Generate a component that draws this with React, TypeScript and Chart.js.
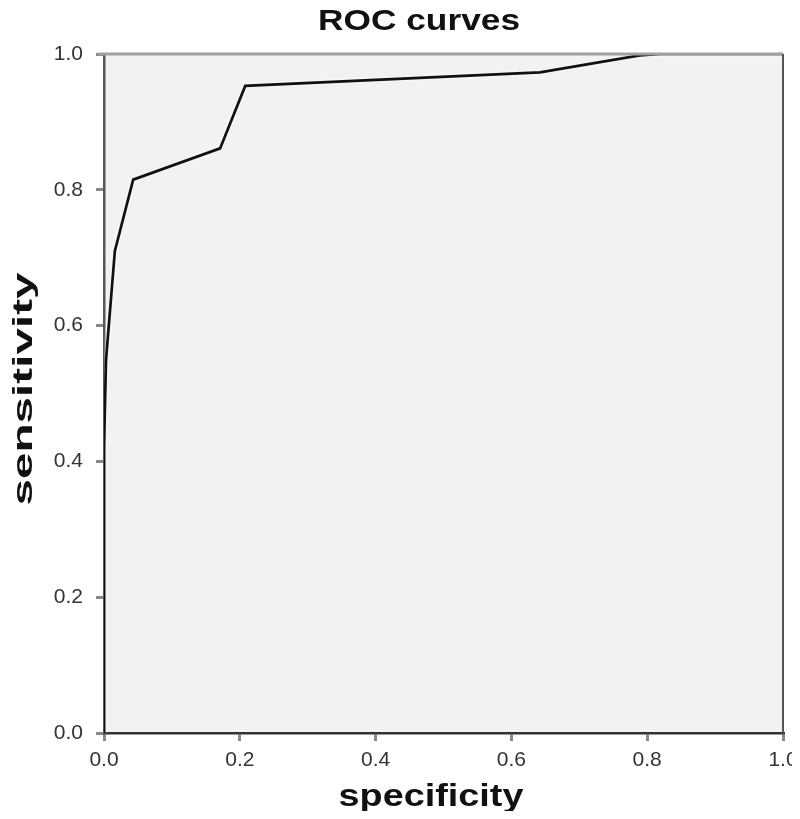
import React, { useEffect, useRef } from "react";
import { Chart, registerables } from "chart.js";

Chart.register(...registerables);

const specificity = [0, 0, 0.003, 0.016, 0.043, 0.171, 0.208, 0.642, 0.789, 0.82, 1.0];
const sensitivity = [0, 0.42, 0.55, 0.71, 0.815, 0.861, 0.953, 0.973, 0.998, 1.0, 1.0];
const tickValues = [0, 0.2, 0.4, 0.6, 0.8, 1.0];

const chartTitle = "ROC curves";
const xTitle = "specificity";
const yTitle = "sensitivity";

const FONT = "Liberation Sans, Arial, sans-serif";

function drawStretched(ctx: any, text: string, size: number, targetWidth: number) {
  ctx.font = `bold ${size}px ${FONT}`;
  const w = ctx.measureText(text).width;
  const s = targetWidth / w;
  ctx.scale(s, 1);
  ctx.textAlign = "center";
  ctx.textBaseline = "alphabetic";
  ctx.fillText(text, 0, 0);
}

const decor = {
  id: "decor",
  beforeDraw(chart: any) {
    const { ctx, chartArea } = chart;
    ctx.save();
    ctx.fillStyle = "#f2f2f2";
    ctx.fillRect(chartArea.left, chartArea.top, chartArea.right - chartArea.left, chartArea.bottom - chartArea.top);
    ctx.restore();
  },
  beforeDatasetsDraw(chart: any) {
    const { ctx } = chart;
    ctx.save();
    ctx.shadowColor = "rgba(255,255,255,0.95)";
    ctx.shadowBlur = 3;
  },
  afterDatasetsDraw(chart: any) {
    const { ctx, chartArea } = chart;
    ctx.restore();
    ctx.save();
    ctx.lineWidth = 3;
    ctx.strokeStyle = "#a0a0a0";
    ctx.beginPath();
    ctx.moveTo(chartArea.left - 6, chartArea.top);
    ctx.lineTo(chartArea.right, chartArea.top);
    ctx.stroke();
    ctx.strokeStyle = "#555";
    ctx.lineWidth = 2;
    ctx.beginPath();
    ctx.moveTo(chartArea.right, chartArea.top);
    ctx.lineTo(chartArea.right, chartArea.bottom);
    ctx.stroke();
    ctx.restore();
  },
  afterDraw(chart: any) {
    const { ctx, chartArea } = chart;
    ctx.save();
    ctx.fillStyle = "#111";
    // chart title
    ctx.save();
    ctx.translate(chartArea.left + 315, 30);
    drawStretched(ctx, chartTitle, 30, 202);
    ctx.restore();
    // x title
    ctx.save();
    ctx.translate(chartArea.left + 327, chartArea.bottom + 73);
    drawStretched(ctx, xTitle, 31, 185);
    ctx.restore();
    // y title
    ctx.save();
    ctx.translate(32, chartArea.top + 335);
    ctx.rotate(-Math.PI / 2);
    drawStretched(ctx, yTitle, 27, 233);
    ctx.restore();
    ctx.restore();
  },
};

export default function App() {
  const ref = useRef<HTMLCanvasElement>(null);
  useEffect(() => {
    if (!ref.current) return;
    const points = specificity.map((x, i) => ({ x, y: sensitivity[i] }));
    const chart = new Chart(ref.current, {
      type: "scatter",
      data: {
        datasets: [
          {
            label: "ROC",
            data: points,
            showLine: true,
            borderColor: "#111",
            borderWidth: 2.7,
            pointRadius: 0,
            tension: 0,
          },
        ],
      },
      options: {
        animation: false,
        responsive: false,
        layout: { padding: { top: 54, right: 17, left: 0, bottom: 0 } },
        plugins: {
          legend: { display: false },
          tooltip: { enabled: false },
          title: { display: false },
        },
        scales: {
          x: {
            type: "linear",
            min: 0,
            max: 1,
            afterBuildTicks: (axis: any) => {
              axis.ticks = tickValues.map((v) => ({ value: v }));
            },
            afterFit: (axis: any) => {
              axis.height = 86;
              axis.paddingRight = 0;
              axis.paddingLeft = 0;
            },
            ticks: {
              color: "#333",
              font: { family: FONT, size: 21 },
              callback: (v: any) => Number(v).toFixed(1),
              padding: 7,
              maxRotation: 0,
            },
            grid: { drawOnChartArea: false, drawTicks: true, tickLength: 8, color: "#888", lineWidth: 3 },
            border: { display: true, color: "#333", width: 2.5 },
          },
          y: {
            type: "linear",
            min: 0,
            max: 1,
            afterBuildTicks: (axis: any) => {
              axis.ticks = tickValues.map((v) => ({ value: v }));
            },
            afterFit: (axis: any) => {
              axis.width = 104;
              axis.paddingTop = 0;
              axis.paddingBottom = 0;
            },
            ticks: {
              color: "#333",
              font: { family: FONT, size: 21 },
              callback: (v: any) => Number(v).toFixed(1),
              padding: 13,
            },
            grid: { drawOnChartArea: false, drawTicks: true, tickLength: 8, color: "#888", lineWidth: 3 },
            border: { display: true, color: "#555", width: 2.5 },
          },
        },
      },
      plugins: [decor],
    });
    return () => chart.destroy();
  }, []);
  return (
    <div style={{ width: 800, height: 819, margin: -8 }}>
      <canvas ref={ref} width={800} height={819} style={{ display: "block" }} />
    </div>
  );
}
